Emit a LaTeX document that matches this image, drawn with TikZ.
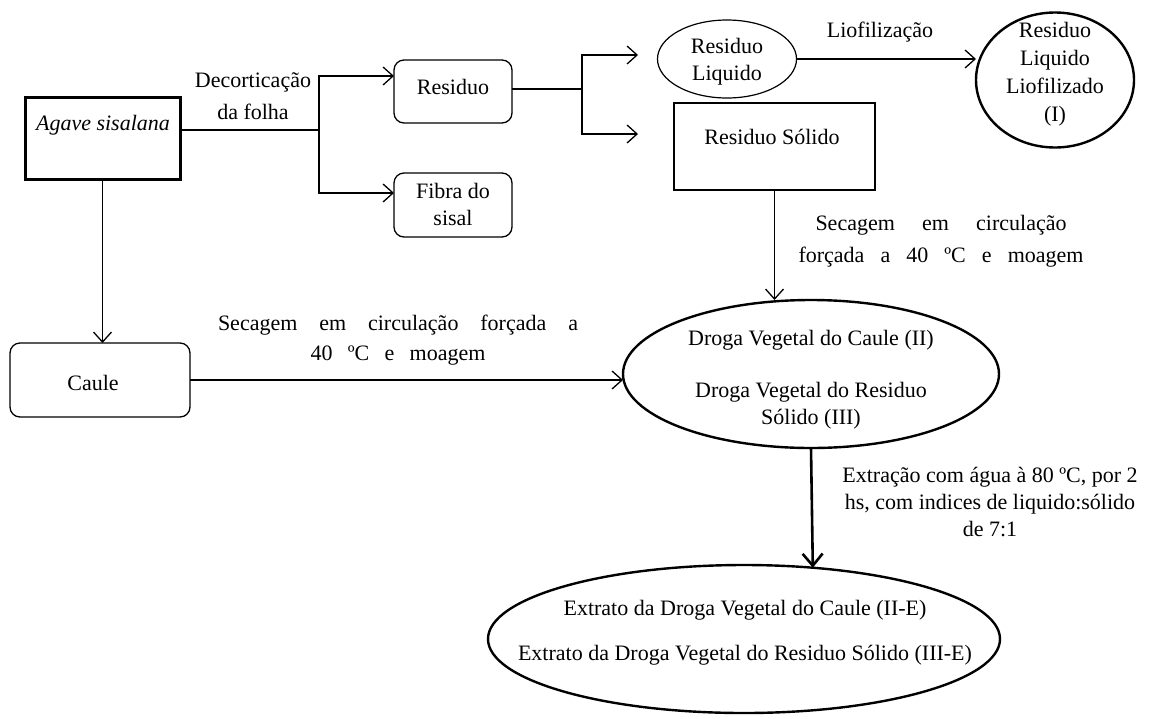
\documentclass[tikz,border=0pt]{standalone}
\usepackage{fontspec}
\setmainfont{Liberation Serif}
\usetikzlibrary{arrows.meta,shapes.geometric}
\newcommand{\spreadto}[2]{\makebox[#1][s]{#2}}
\begin{document}
\begin{tikzpicture}[x=1pt,y=-1pt,
  every node/.style={inner sep=0pt, outer sep=0pt},
  txt/.style={font=\fontsize{22}{27}\selectfont, align=center},
  rbox/.style={draw, line width=1.3pt, rounded corners=10pt},
  sbox/.style={draw, line width=1.3pt},
  oval/.style={draw, ellipse, line width=2.4pt},
  ln/.style={line width=1.3pt},
  arr/.style={line width=1.3pt, -{Straight Barb[length=10pt,width=18pt]}},
]
\path[use as bounding box] (0,0) rectangle (1158,718);

% boxes and ovals
\node[sbox, line width=3pt, minimum width=155pt, minimum height=82pt] (agave) at (102.5,138) {};
\node[txt, font=\fontsize{22}{27}\selectfont\itshape] (agavet) at (103,125) {Agave sisalana};

\node[rbox, minimum width=118pt, minimum height=63pt] (res) at (453,91.5) {};
\node[txt] (rest) at (453,87) {Residuo};

\node[rbox, minimum width=118pt, minimum height=64pt] (fib) at (453,205) {};
\node[txt] (fibt) at (453,204) {Fibra do\\sisal};

\node[oval, line width=1.2pt, minimum width=139pt, minimum height=78pt] (liq) at (727,59) {};
\node[txt] (liqt) at (727,62) {Residuo\\Liquido};

\node[sbox, minimum width=201pt, minimum height=87pt] (sol) at (774.5,146.5) {};
\node[txt] (solt) at (772,137) {Residuo Sólido};

\node[oval, minimum width=158pt, minimum height=135pt] (lio) at (1055,80) {};
\node[txt, font=\fontsize{22}{28}\selectfont] (liot) at (1055,74.5) {Residuo\\Liquido\\Liofilizado\\(I)};

\node[rbox, minimum width=180pt, minimum height=74pt] (caule) at (100,380) {};
\node[txt] (caulet) at (93,383) {Caule};

\node[oval, minimum width=376pt, minimum height=148pt] (mid) at (811,374) {};
\node[txt] (midt1) at (811,340) {Droga Vegetal do Caule (II)};
\node[txt] (midt2) at (811,406) {Droga Vegetal do Residuo\\Sólido (III)};

\node[oval, minimum width=512pt, minimum height=148pt] (bot) at (744,639) {};
\node[txt] (bott1) at (745,610) {Extrato da Droga Vegetal do Caule (II-E)};
\node[txt] (bott2) at (745,655) {Extrato da Droga Vegetal do Residuo Sólido (III-E)};

% labels
\node[txt, font=\fontsize{22}{32}\selectfont] (ldec) at (253,96) {Decorticação\\da folha};
\node[txt] (llio) at (880,32) {Liofilização};
\node[txt, font=\fontsize{22}{32}\selectfont] (lsec1) at (941,241) {\spreadto{251pt}{Secagem em circulação}\\\spreadto{285pt}{forçada a 40 ºC e moagem}};
\node[txt, font=\fontsize{22}{30}\selectfont] (lsec2) at (398,340) {\spreadto{360pt}{Secagem em circulação forçada a}\\\spreadto{175pt}{40 ºC e moagem}};
\node[txt] (lext) at (990,502) {Extração com água à 80 ºC, por 2\\hs, com indices de liquido:sólido\\de 7:1};

% junctions
\coordinate (j1) at (319,130);
\coordinate (j1a) at (319,76);
\coordinate (j1b) at (319,193);
\coordinate (j2) at (582,89);
\coordinate (j2a) at (582,55);
\coordinate (j2b) at (582,134);
\coordinate (t1) at (638,55);
\coordinate (t2) at (638,134);

% connectors
\draw[ln] (agave.east|-j1) -- (j1);
\draw[arr] (j1) -- (j1a) -- (res.west|-j1a);
\draw[arr] (j1) -- (j1b) -- (fib.west|-j1b);
\draw[ln] (res.east|-j2) -- (j2);
\draw[arr] (j2) -- (j2a) -- (t1);
\draw[arr] (j2) -- (j2b) -- (t2);
\draw[arr] (liq.east) -- (liq.east -| lio.west);
\draw[arr] (sol.south) -- (sol.south |- mid.north);
\draw[arr] (agave.south) -- (agave.south |- caule.north);
\draw[arr] (caule.east) -- (caule.east -| mid.west);
\draw[line width=2.6pt, -{Straight Barb[length=12pt,width=20pt]}] (mid.south) -- (bot.46.8);
\end{tikzpicture}
\end{document}
